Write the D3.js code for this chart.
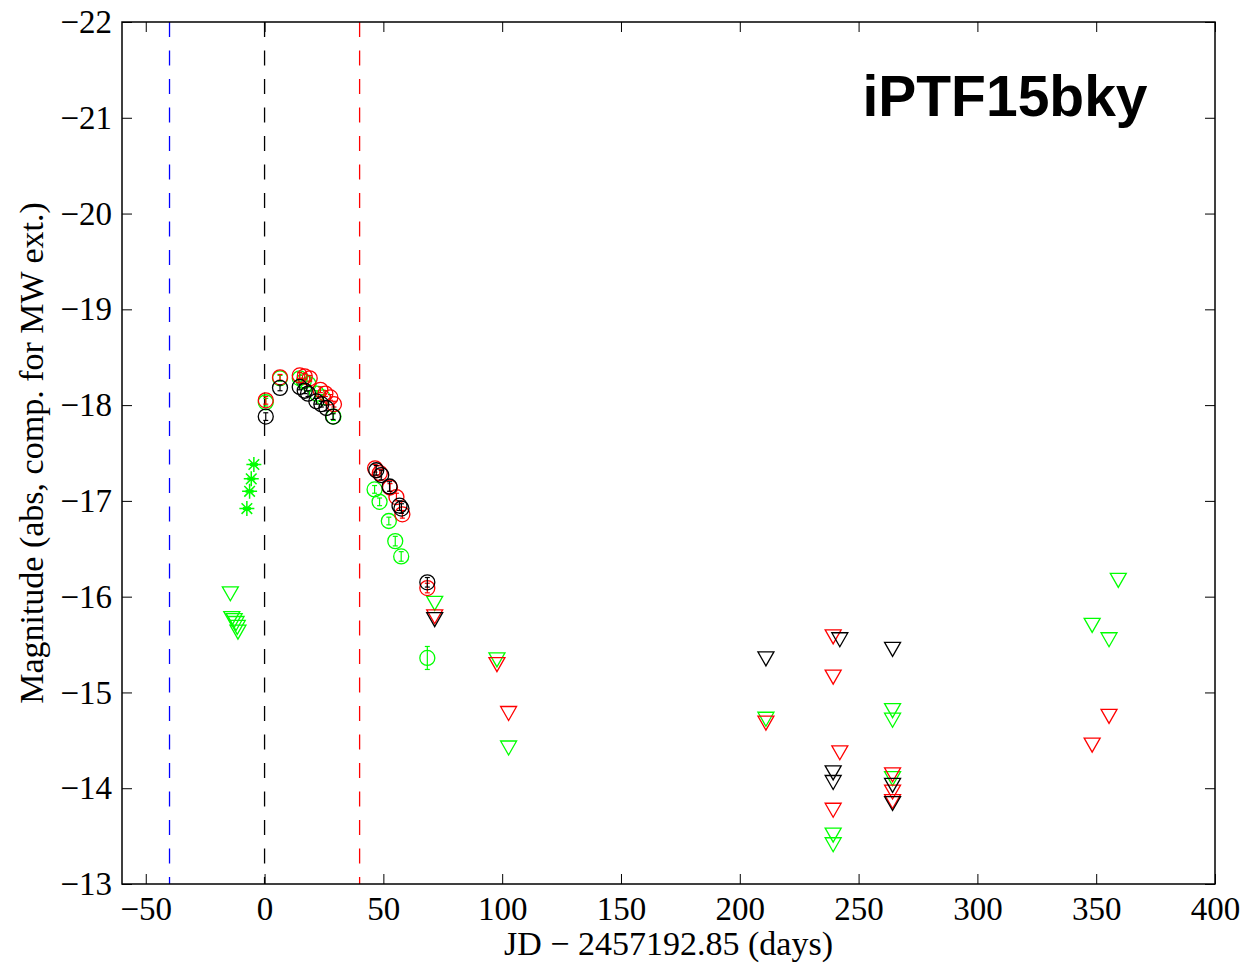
<!DOCTYPE html>
<html>
<head>
<meta charset="utf-8">
<script src="https://cdn.jsdelivr.net/npm/d3@7"></script>
<style>
  html, body { margin: 0; padding: 0; background: #fff; }
  svg { display: block; }
</style>
</head>
<body>
<svg id="chart" width="1245" height="964"></svg>
<script>
// ---------------- DATA ----------------
const title = "iPTF15bky";
const xLabel = "JD \u2212 2457192.85 (days)";
const yLabel = "Magnitude (abs, comp. for MW ext.)";
const xTicks = [-50, 0, 50, 100, 150, 200, 250, 300, 350, 400];
const yTicks = [-22, -21, -20, -19, -18, -17, -16, -15, -14, -13];
const vLinesX = [-40, 0, 40];
const vLinesColor = ["#0000ff", "#000000", "#ff0000"];

// detections (circles) with errors
const gX   = [0.5, 6.5, 14.8, 16.5, 18.5, 22.0, 24.5, 29.0, 46.3, 48.4, 52.3, 55.0, 57.5, 68.5];
const gMag = [-18.03, -18.28, -18.28, -18.25, -18.22, -18.12, -18.08, -17.88, -17.12, -16.99, -16.79, -16.58, -16.42, -15.36];
const gErr = [0.04, 0.03, 0.03, 0.03, 0.03, 0.03, 0.03, 0.04, 0.04, 0.04, 0.04, 0.05, 0.05, 0.12];

const rX   = [0.5, 6.5, 14.8, 16.9, 19.0, 23.5, 25.6, 27.7, 29.2, 46.5, 48.5, 52.8, 55.5, 58.0, 68.5];
const rMag = [-18.05, -18.29, -18.31, -18.30, -18.28, -18.16, -18.12, -18.08, -18.01, -17.34, -17.29, -17.14, -17.04, -16.86, -16.09];
const rErr = [0.04, 0.03, 0.03, 0.03, 0.03, 0.03, 0.03, 0.03, 0.03, 0.04, 0.04, 0.04, 0.04, 0.04, 0.05];

const kX   = [0.5, 6.5, 14.8, 16.9, 18.3, 21.8, 23.9, 26.0, 28.8, 47.0, 49.1, 52.6, 56.8, 57.6, 68.5];
const kMag = [-17.88, -18.18, -18.19, -18.15, -18.12, -18.04, -18.01, -17.97, -17.88, -17.32, -17.27, -17.15, -16.95, -16.92, -16.15];
const kErr = [0.04, 0.03, 0.03, 0.03, 0.03, 0.03, 0.03, 0.03, 0.03, 0.05, 0.05, 0.05, 0.05, 0.05, 0.05];

// early green detections (asterisks)
const sX   = [-4.5, -5.6, -6.3, -7.45];
const sMag = [-17.38, -17.23, -17.10, -16.92];

// upper limits (triangles)
const gLimX   = [-14.4, -13.8, -12.8, -12.0, -11.5, -11.2, 71.6, 97.8, 102.7, 211.0, 239.3, 239.3, 264.3, 264.3, 264.3, 348.3, 355.4, 359.3];
const gLimMag = [-16.03, -15.77, -15.75, -15.72, -15.68, -15.63, -15.93, -15.34, -14.42, -14.72, -13.51, -13.41, -14.81, -14.71, -14.10, -15.70, -15.55, -16.17];

const rLimX   = [71.6, 97.8, 102.7, 211.0, 239.3, 239.3, 242.1, 239.3, 264.3, 264.3, 264.3, 348.3, 355.4];
const rLimMag = [-15.79, -15.29, -14.78, -14.68, -15.58, -15.16, -14.37, -13.77, -14.14, -13.96, -13.86, -14.45, -14.75];

const kLimX   = [71.6, 211.0, 242.1, 264.3, 239.3, 239.3, 264.3, 264.3];
const kLimMag = [-15.76, -15.35, -15.55, -15.45, -14.16, -14.06, -14.03, -13.84];

// ---------------- CHART ----------------
const svg = d3.select("#chart");
const PL = 122, PR = 1215, PT = 22, PB = 884;
const xs = d3.scaleLinear().domain([-60, 400]).range([PL, PR]);
const ys = d3.scaleLinear().domain([-22, -13]).range([PT, PB]);

const serif = "'Liberation Serif', 'Times New Roman', serif";
const fmt = d => (d < 0 ? "\u2212" + Math.abs(d) : String(d));

const COL = { g: "#00ff00", r: "#ff0000", k: "#000000" };

svg.append("defs").append("clipPath").attr("id", "clip")
  .append("rect").attr("x", PL).attr("y", PT).attr("width", PR - PL).attr("height", PB - PT);

const plot = svg.append("g").attr("clip-path", "url(#clip)");

// vertical dashed lines
vLinesX.forEach((v, i) => {
  plot.append("line")
    .attr("x1", xs(v)).attr("x2", xs(v)).attr("y1", PT).attr("y2", PB)
    .attr("stroke", vLinesColor[i]).attr("stroke-width", 1.3)
    .attr("stroke-dasharray", "15,13.5");
});

function drawCircles(xv, ms, es, color) {
  const g = plot.append("g");
  xv.forEach((v, i) => {
    const cx = xs(v), cy = ys(ms[i]);
    const y1 = ys(ms[i] - es[i]), y2 = ys(ms[i] + es[i]);
    g.append("line").attr("x1", cx).attr("x2", cx).attr("y1", y1).attr("y2", y2)
      .attr("stroke", color).attr("stroke-width", 1.2);
    g.append("line").attr("x1", cx - 2.5).attr("x2", cx + 2.5).attr("y1", y1).attr("y2", y1)
      .attr("stroke", color).attr("stroke-width", 1.2);
    g.append("line").attr("x1", cx - 2.5).attr("x2", cx + 2.5).attr("y1", y2).attr("y2", y2)
      .attr("stroke", color).attr("stroke-width", 1.2);
    g.append("circle").attr("cx", cx).attr("cy", cy).attr("r", 7.5)
      .attr("fill", "none").attr("stroke", color).attr("stroke-width", 1.3);
  });
}

function drawTriangles(xv, ms, color) {
  const g = plot.append("g");
  xv.forEach((v, i) => {
    const cx = xs(v), cy = ys(ms[i]);
    g.append("path")
      .attr("d", `M${cx - 8},${cy - 7}L${cx + 8},${cy - 7}L${cx},${cy + 7}Z`)
      .attr("fill", "none").attr("stroke", color).attr("stroke-width", 1.3);
  });
}

function drawStars(xv, ms, color) {
  const g = plot.append("g");
  xv.forEach((v, i) => {
    const cx = xs(v), cy = ys(ms[i]);
    const r = 7.5, d = r * 0.7071;
    const p = `M${cx - r},${cy}L${cx + r},${cy}M${cx},${cy - r}L${cx},${cy + r}` +
              `M${cx - d},${cy - d}L${cx + d},${cy + d}M${cx - d},${cy + d}L${cx + d},${cy - d}`;
    g.append("path").attr("d", p).attr("stroke", color).attr("stroke-width", 1.5).attr("fill", "none");
    g.append("line").attr("x1", cx - 4).attr("x2", cx + 4).attr("y1", cy).attr("y2", cy)
      .attr("stroke", color).attr("stroke-width", 3);
  });
}

drawStars(sX, sMag, COL.g);
drawTriangles(gLimX, gLimMag, COL.g);
drawTriangles(rLimX, rLimMag, COL.r);
drawTriangles(kLimX, kLimMag, COL.k);
drawCircles(gX, gMag, gErr, COL.g);
drawCircles(rX, rMag, rErr, COL.r);
drawCircles(kX, kMag, kErr, COL.k);

// axes (ticks inward, on all four sides)
const tickLen = 10;
const axG = svg.append("g");
const axBottom = d3.axisBottom(xs).tickValues(xTicks).tickSize(-tickLen).tickFormat(fmt).tickPadding(13);
const axTop = d3.axisTop(xs).tickValues(xTicks).tickSize(-tickLen).tickFormat("");
const axLeft = d3.axisLeft(ys).tickValues(yTicks).tickSize(-tickLen).tickFormat(fmt).tickPadding(10);
const axRight = d3.axisRight(ys).tickValues(yTicks).tickSize(-tickLen).tickFormat("");

function styleAxis(sel) {
  sel.select(".domain").remove();
  sel.selectAll(".tick line").attr("stroke", "#000").attr("stroke-width", 1);
  sel.selectAll(".tick text").attr("fill", "#000").style("font-family", serif).style("font-size", "33px");
}
axG.append("g").attr("transform", `translate(0,${PB})`).call(axBottom).call(styleAxis);
axG.append("g").attr("transform", `translate(0,${PT})`).call(axTop).call(styleAxis);
axG.append("g").attr("transform", `translate(${PL},0)`).call(axLeft).call(styleAxis);
axG.append("g").attr("transform", `translate(${PR},0)`).call(axRight).call(styleAxis);

// box
svg.append("rect").attr("x", PL).attr("y", PT).attr("width", PR - PL).attr("height", PB - PT)
  .attr("fill", "none").attr("stroke", "#000").attr("stroke-width", 1.5);

// labels
svg.append("text").attr("x", (PL + PR) / 2).attr("y", 955)
  .attr("text-anchor", "middle").style("font-family", serif).style("font-size", "34px")
  .text(xLabel);
svg.append("text").attr("transform", `translate(43,${(PT + PB) / 2}) rotate(-90)`)
  .attr("text-anchor", "middle").style("font-family", serif).style("font-size", "34px")
  .text(yLabel);

// title
svg.append("text").attr("x", 1005).attr("y", 116)
  .attr("text-anchor", "middle")
  .style("font-family", "'Liberation Sans', Arial, Helvetica, sans-serif")
  .style("font-weight", "bold").style("font-size", "57px")
  .text(title);
</script>
</body>
</html>
